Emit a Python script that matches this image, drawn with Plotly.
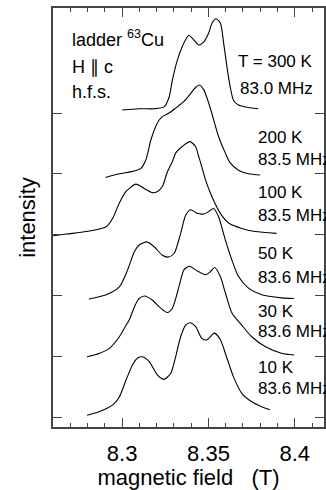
import plotly.graph_objects as go

# 63Cu NMR hyperfine-structure spectra of the ladder site, H || c,
# stacked by temperature (offset by one unit each).
temperatures = ["T = 300 K", "200 K", "100 K", "50 K", "30 K", "10 K"]
frequencies = ["83.0 MHz", "83.5 MHz", "83.5 MHz", "83.6 MHz", "83.6 MHz", "83.6 MHz"]
offsets = [5, 4, 3, 2, 1, 0]

field_300 = [8.3000, 8.3099, 8.3186, 8.3243, 8.3272, 8.3291, 8.3320, 8.3348, 8.3377,
             8.3387, 8.3416, 8.3444, 8.3473, 8.3502, 8.3521, 8.3544, 8.3569, 8.3588,
             8.3607, 8.3626, 8.3645, 8.3674, 8.3713, 8.3789]
int_300 = [0.05, 0.07, 0.07, 0.10, 0.26, 0.54, 0.87, 1.09, 1.25, 1.28, 1.20, 1.12,
           1.17, 1.32, 1.48, 1.55, 1.48, 1.15, 0.76, 0.43, 0.21, 0.13, 0.10, 0.07]

field_200 = [8.2904, 8.2984, 8.3061, 8.3109, 8.3138, 8.3167, 8.3205, 8.3233, 8.3272,
             8.3310, 8.3358, 8.3397, 8.3425, 8.3448, 8.3473, 8.3502, 8.3530, 8.3559,
             8.3598, 8.3626, 8.3674, 8.3732, 8.3799]
int_200 = [-0.06, 0.00, 0.04, 0.09, 0.23, 0.56, 0.84, 0.94, 1.00, 1.08, 1.19, 1.32,
           1.42, 1.46, 1.38, 1.16, 0.89, 0.61, 0.34, 0.18, 0.06, 0.00, -0.02]

field_100 = [8.2601, 8.2678, 8.2793, 8.2908, 8.2946, 8.2984, 8.3023, 8.3080, 8.3128,
             8.3176, 8.3205, 8.3233, 8.3262, 8.3291, 8.3310, 8.3348, 8.3393, 8.3425,
             8.3444, 8.3454, 8.3483, 8.3521, 8.3569, 8.3617, 8.3693, 8.3770, 8.3894]
int_100 = [-0.02, 0.01, 0.05, 0.13, 0.27, 0.52, 0.71, 0.83, 0.76, 0.69, 0.71, 0.79,
           1.03, 1.20, 1.34, 1.45, 1.53, 1.45, 1.28, 1.19, 0.90, 0.62, 0.35, 0.19,
           0.10, 0.05, 0.02]

field_50 = [8.2808, 8.2908, 8.2984, 8.3032, 8.3071, 8.3099, 8.3144, 8.3186, 8.3233,
            8.3266, 8.3301, 8.3339, 8.3368, 8.3397, 8.3434, 8.3473, 8.3502, 8.3530,
            8.3559, 8.3598, 8.3636, 8.3674, 8.3732, 8.3808, 8.3923, 8.3996]
int_50 = [-0.06, 0.01, 0.14, 0.42, 0.72, 0.83, 0.88, 0.80, 0.66, 0.63, 0.69, 1.02,
          1.32, 1.41, 1.35, 1.34, 1.38, 1.43, 1.29, 0.91, 0.58, 0.31, 0.12, 0.01,
          -0.04, -0.05]

field_30 = [8.2797, 8.2870, 8.2927, 8.2984, 8.3023, 8.3042, 8.3071, 8.3099, 8.3132,
            8.3176, 8.3224, 8.3262, 8.3291, 8.3329, 8.3358, 8.3391, 8.3425, 8.3483,
            8.3511, 8.3536, 8.3569, 8.3598, 8.3636, 8.3693, 8.3751, 8.3828, 8.3923,
            8.3996]
int_30 = [-0.01, 0.05, 0.13, 0.32, 0.51, 0.60, 0.81, 0.95, 0.99, 0.92, 0.79, 0.72,
          0.79, 1.14, 1.42, 1.48, 1.42, 1.34, 1.39, 1.46, 1.31, 1.04, 0.71, 0.51,
          0.32, 0.16, 0.05, 0.02]

field_10 = [8.2797, 8.2870, 8.2946, 8.2984, 8.3023, 8.3061, 8.3090, 8.3118, 8.3157,
            8.3205, 8.3243, 8.3282, 8.3310, 8.3339, 8.3368, 8.3393, 8.3425, 8.3463,
            8.3492, 8.3521, 8.3536, 8.3569, 8.3607, 8.3645, 8.3693, 8.3751, 8.3808,
            8.3856]
int_10 = [0.03, 0.09, 0.20, 0.33, 0.61, 0.86, 0.97, 0.99, 0.91, 0.69, 0.62, 0.72,
          0.99, 1.32, 1.51, 1.55, 1.49, 1.29, 1.27, 1.35, 1.38, 1.27, 0.97, 0.66,
          0.39, 0.25, 0.17, 0.12]

x_ticks = [8.3, 8.35, 8.4]
x_tick_labels = ["8.3", "8.35", "8.4"]

fields = [field_300, field_200, field_100, field_50, field_30, field_10]
intensities = [int_300, int_200, int_100, int_50, int_30, int_10]

FONT = "Liberation Sans, Arial, Helvetica, sans-serif"

fig = go.Figure()
for fld, inten, off in zip(fields, intensities, offsets):
    fig.add_trace(go.Scatter(
        x=fld, y=[v + off for v in inten], mode="lines",
        line=dict(color="black", width=1.1, shape="spline", smoothing=0.7),
        showlegend=False, hoverinfo="skip",
    ))

# spectrum labels: temperature line and frequency line for each curve
label_x = [8.3668, 8.3780, 8.3780, 8.3780, 8.3780, 8.3780]
temp_y = [5.84, 4.59, 3.70, 2.69, 1.73, 0.82]
freq_y = [5.40, 4.24, 3.32, 2.30, 1.40, 0.47]
annotations = []
for i in range(len(temperatures)):
    annotations.append(dict(x=label_x[i], y=temp_y[i], text=temperatures[i]))
    annotations.append(dict(x=label_x[i] + (0.0006 if i == 0 else 0), y=freq_y[i],
                            text=frequencies[i]))
for a in annotations:
    a["font"] = dict(family=FONT, size=17, color="black")

# sample description in the upper-left corner
for txt, yy in [("ladder <sup>63</sup>Cu", 6.23), ("H \u2225 c", 5.76), ("h.f.s.", 5.35)]:
    annotations.append(dict(x=8.2703, y=yy, text=txt,
                            font=dict(family=FONT, size=18, color="black")))

for a in annotations:
    a.update(xref="x", yref="y", xanchor="left", yanchor="middle", showarrow=False,
             borderpad=0)

fig.update_layout(
    width=326, height=490,
    margin=dict(l=53, r=0, t=8, b=63),
    paper_bgcolor="white", plot_bgcolor="white",
    font=dict(family=FONT, color="black"),
    annotations=annotations,
    xaxis=dict(
        range=[8.26, 8.4169], tickvals=x_ticks, ticktext=x_tick_labels,
        ticks="inside", ticklen=9, tickwidth=1, tickcolor="#444",
        minor=dict(dtick=0.01, tick0=8.26, ticks="inside", ticklen=4,
                   tickwidth=1, tickcolor="#444"),
        showline=True, linecolor="#444", linewidth=1.5, mirror="ticks",
        showgrid=False, zeroline=False,
        tickfont=dict(size=22, family=FONT), ticklabelstandoff=6,
        title=dict(text="magnetic field\u00a0\u00a0 (T)", font=dict(size=22, family=FONT),
                   standoff=4),
    ),
    yaxis=dict(
        range=[-0.164, 6.727], tickvals=offsets, showticklabels=False,
        ticks="inside", ticklen=9, tickwidth=1, tickcolor="#444",
        showline=True, linecolor="#444", linewidth=1.5, mirror="ticks",
        showgrid=False, zeroline=False,
        title=dict(text="intensity", font=dict(size=22, family=FONT), standoff=10),
    ),
)

fig.write_html("out.html")
